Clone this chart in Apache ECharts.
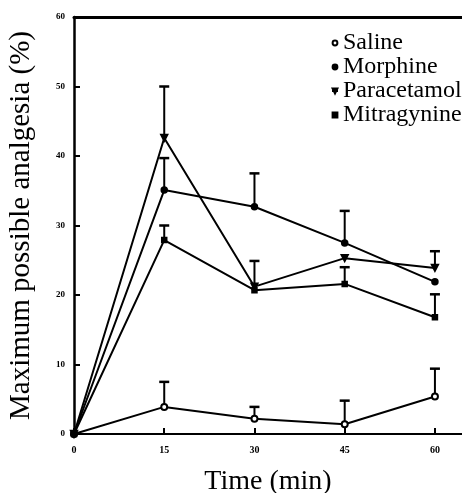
<!DOCTYPE html>
<html>
<head>
<meta charset="utf-8">
<script src="https://cdn.jsdelivr.net/npm/echarts@6/dist/echarts.min.js"></script>
<style>html,body{margin:0;padding:0;background:#fff;}#c{width:462px;height:493px;}</style>
</head>
<body>
<div id="c"></div>
<script>
var times = [0, 15, 30, 45, 60];
var xTicks = [0, 15, 30, 45, 60];
var saline = [0, 3.9, 2.2, 1.4, 5.4];
var salineErr = [0, 3.6, 1.7, 3.4, 4.0];
var morphine = [0, 35.1, 32.7, 27.5, 21.9];
var morphineErr = [0, 4.6, 4.8, 4.6, 0];
var paracetamol = [0, 42.6, 21.2, 25.3, 23.9];
var paracetamolErr = [0, 7.4, 3.7, 0, 2.4];
var mitragynine = [0, 27.9, 20.7, 21.6, 16.8];
var mitragynineErr = [0, 2.1, 0, 2.4, 3.3];

var names = ['Saline', 'Morphine', 'Paracetamol', 'Mitragynine'];
var values = [saline, morphine, paracetamol, mitragynine];
var errs = [salineErr, morphineErr, paracetamolErr, mitragynineErr];
var symbols = ['emptyCircle', 'circle', 'path://M0,0 L10,0 L5,9 Z', 'rect'];
var symSizes = [6, 6, 7, 5];
var serif = 'Liberation Serif';

var series = [];
names.forEach(function (n, i) {
  series.push({
    name: n,
    type: 'line',
    data: times.map(function (t, k) { return [t, values[i][k]]; }),
    symbol: symbols[i],
    symbolSize: symSizes[i],
    showAllSymbol: true,
    lineStyle: { color: '#000', width: 2 },
    itemStyle: { color: '#000', borderColor: '#000', borderWidth: 1.5 },
    z: 3
  });
  series.push({
    type: 'custom',
    data: times.map(function (t, k) { return [t, values[i][k], errs[i][k]]; }),
    encode: { x: 0, y: 1 },
    renderItem: function (params, api) {
      var e = api.value(2);
      if (!e) return null;
      var x = api.value(0), y = api.value(1);
      var p0 = api.coord([x, y]);
      var p1 = api.coord([x, y + e]);
      return {
        type: 'group',
        children: [
          { type: 'line', shape: { x1: p0[0], y1: p0[1], x2: p1[0], y2: p1[1] }, style: { stroke: '#000', lineWidth: 2 } },
          { type: 'line', shape: { x1: p1[0] - 5, y1: p1[1], x2: p1[0] + 5, y2: p1[1] }, style: { stroke: '#000', lineWidth: 2.5 } }
        ]
      };
    },
    z: 2,
    silent: true
  });
});

var chart = echarts.init(document.getElementById('c'));
chart.setOption({
  animation: false,
  backgroundColor: '#fff',
  grid: { left: 74, right: 0, top: 17, bottom: 59, containLabel: false, outerBoundsMode: 'none' },
  legend: {
    data: names,
    orient: 'vertical',
    left: 326,
    top: 26,
    itemWidth: 6,
    itemHeight: 6,
    itemGap: 0,
    textStyle: { fontFamily: serif, fontSize: 24, color: '#000', lineHeight: 23 }
  },
  xAxis: [{
    type: 'value',
    min: 0,
    max: 64.5,
    interval: 15,
    name: 'Time (min)',
    nameLocation: 'middle',
    nameGap: 34,
    nameTextStyle: { fontFamily: serif, fontSize: 28, color: '#000' },
    axisLine: { lineStyle: { color: '#000', width: 2 } },
    axisTick: { inside: true, length: 6, lineStyle: { color: '#000', width: 2 }, customValues: xTicks },
    axisLabel: {
      customValues: xTicks,
      fontFamily: serif, fontSize: 10, fontWeight: 'bold', color: '#000', margin: 11,
      formatter: function (v) { return xTicks.indexOf(v) >= 0 ? String(v) : ''; }
    },
    splitLine: { show: false }
  }, {
    type: 'value',
    position: 'top',
    min: 0,
    max: 64.5,
    axisLine: { show: true, lineStyle: { color: '#000', width: 3 } },
    axisTick: { show: false },
    axisLabel: { show: false },
    splitLine: { show: false }
  }],
  yAxis: {
    type: 'value',
    min: 0,
    max: 60,
    interval: 10,
    name: 'Maximum possible analgesia (%)',
    nameLocation: 'middle',
    nameGap: 38,
    nameTextStyle: { fontFamily: serif, fontSize: 29, color: '#000' },
    axisLine: { show: true, lineStyle: { color: '#000', width: 2.5 } },
    axisTick: { show: true, inside: true, length: 6, lineStyle: { color: '#000', width: 2 } },
    axisLabel: { fontFamily: serif, fontSize: 9, fontWeight: 'bold', color: '#000', margin: 9 },
    splitLine: { show: false }
  },
  series: series
});
</script>
</body>
</html>
